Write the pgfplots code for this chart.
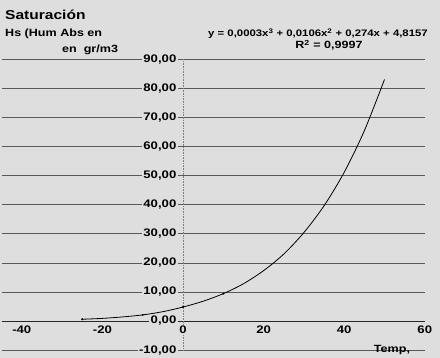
\documentclass[border=0pt]{standalone}
\usepackage{fontspec}
\setmainfont{Liberation Sans}[FakeStretch=1.2]
\usepackage{pgfplots}
\pgfplotsset{compat=1.18}
\definecolor{bg}{gray}{0.87}
\begin{document}
\begin{tikzpicture}
\fill[bg] (-183bp,-37bp) rectangle (257bp,321bp);
\begin{axis}[
  anchor=origin, at={(0,0)},
  x=4.03bp, y=2.91bp,
  xmin=-45, xmax=60, ymin=-10, ymax=90,
  axis lines=middle,
  axis line style={-},
  x axis line style={black!85, line width=0.8pt},
  y axis line style={black!50, densely dotted, line width=0.6pt},
  ytick={-10,0,...,90},
  xtick={-40,-20,0,20,40,60},
  ymajorgrids, grid style={black!65, line width=0.5pt},
  major tick length=0pt,
  hide obscured x ticks=false, hide obscured y ticks=false,
  x tick label style={font=\fontsize{11}{13}\selectfont\bfseries, fill=bg, inner sep=1pt, yshift=-4pt},
  y tick label style={font=\fontsize{11}{13}\selectfont\bfseries, fill=bg, inner sep=1.5pt, xshift=-5pt},
  y tick label style={/pgf/number format/.cd, fixed, fixed zerofill, precision=2, use comma},
  /pgf/number format/assume math mode=true,
]
\addplot[black, line width=0.8pt, smooth] coordinates {
(-25,0.6) (-20,0.9) (-15,1.4) (-10,2.1) (-5,3.2) (0,4.8) (5,6.8) (10,9.4)
(15,12.8) (20,17.3) (25,23.0) (30,30.4) (35,39.6) (40,51.1) (45,65.4) (50,83.0)};
\addplot[black, only marks, mark=*, mark size=0.8pt] coordinates {
(-25,0.6) (-10,2.1) (0,4.8) (10,9.4)};
\end{axis}
\node[anchor=base west, font=\fontsize{13}{15}\selectfont\bfseries, inner sep=0pt] at (-178bp,301bp) {Saturación};
\node[anchor=base west, font=\fontsize{10.5}{12}\selectfont\bfseries, inner sep=0pt] at (-178bp,284bp) {Hs (Hum Abs en};
\node[anchor=base west, font=\fontsize{10.5}{12}\selectfont\bfseries, inner sep=0pt] at (-121bp,268bp) {en\ \ gr/m3};
\node[anchor=base, font=\fontsize{9.5}{11}\selectfont\bfseries, inner sep=0pt] at (135bp,284bp) {y = 0,0003x\textsuperscript{3} + 0,0106x\textsuperscript{2} + 0,274x + 4,8157};
\node[anchor=base, font=\fontsize{10.5}{12}\selectfont\bfseries, inner sep=0pt] at (146bp,272bp) {R\textsuperscript{2} = 0,9997};
\node[anchor=center, font=\fontsize{10.5}{12}\selectfont\bfseries, inner sep=0pt] at (209bp,-29bp) {Temp,};
\end{tikzpicture}
\end{document}
